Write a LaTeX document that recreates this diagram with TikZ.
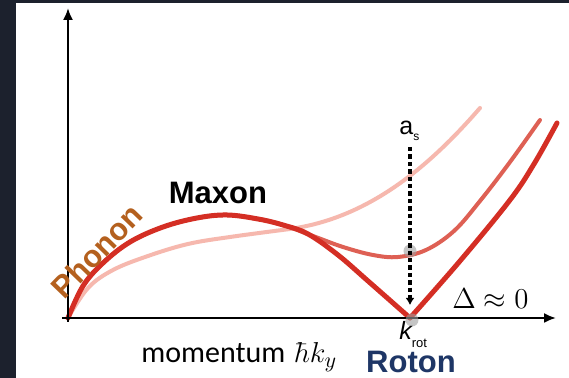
\documentclass[tikz,border=0pt]{standalone}
\usepackage{fontspec}
\setsansfont{Liberation Sans}
\newfontfamily\momfont{Carlito}
\usetikzlibrary{arrows.meta}
\definecolor{slidedark}{RGB}{28,33,45}
\definecolor{rotonred}{RGB}{212,46,36}
\definecolor{mixred}{RGB}{222,96,84}
\definecolor{weakred}{RGB}{246,184,174}
\definecolor{phononbrown}{RGB}{180,96,30}
\definecolor{rotonblue}{RGB}{30,54,102}
\begin{document}
\begin{tikzpicture}[x=0.5pt,y=0.5pt,
  axis/.style={line width=1pt,-{Latex[length=6pt,width=5pt]}},
  branch/.style={line width=#1,line cap=round,line join=round},
  bigsans/.style={font=\sffamily\bfseries\fontsize{15.5}{18}\selectfont,inner sep=0pt},
  smallsans/.style={font=\sffamily\fontsize{12.5}{15}\selectfont,inner sep=0pt,anchor=base west},
  graydot/.style={circle,fill=gray!75,opacity=0.6,minimum size=6.5pt,inner sep=0pt}]
\fill[slidedark] (-68,-60) rectangle (501,318);
\fill[white] (-52,-60) rectangle (501,315);
\coordinate (O) at (0,0);
\coordinate (xtail) at (-6,0);
\coordinate (xend) at (488,0);
\coordinate (ytail) at (0,-4);
\coordinate (yend) at (0,310);
\draw[weakred,branch=2pt] plot[smooth,tension=0.6] coordinates {(0,0) (20,30) (45,48) (80,62) (120,74) (162,81) (222,89)} .. controls (300,100) and (360,150) .. (412,210);
\draw[mixred,branch=2pt] plot[smooth,tension=0.6] coordinates {(0,0) (15,32) (35,55) (62,76) (95,91) (129,100) (159,103) (190,99) (215,93) (245,82) (275,71) (305,63) (330,61) (358,68) (386,87) (412,117) (442,156) (472,198)};
\draw[rotonred,branch=2.5pt] plot[smooth,tension=0.6] coordinates {(0,0) (15,32) (35,55) (62,76) (95,91) (129,100) (159,103) (190,99) (215,93) (240,84) (270,63) (300,37) (342,0)};
\draw[rotonred,branch=2.5pt] plot[smooth,tension=0.6] coordinates {(342,0) (392,57) (442,118) (466,154) (489,195)};
\draw[axis] (xtail) -- (xend);
\draw[axis] (ytail) -- (yend);
\node[graydot] (dotup) at (342,67) {};
\node[graydot] (dotdown) at (344,-2) {};
\node[bigsans] (maxon) at (150,125) {Maxon};
\node[bigsans,text=phononbrown,rotate=46] (phonon) at (29,67) {Phonon};
\node[bigsans,text=rotonblue,anchor=base] (roton) at (343,-55) {Roton};
\node[inner sep=0pt,anchor=base west,font=\fontsize{15}{17}\selectfont] (momentum) at (73,-45) {{\momfont momentum} $\hbar k_y$};
\node[inner sep=0pt,anchor=base west,font=\fontsize{14}{17}\selectfont] (gap) at (384,9) {$\Delta\approx0$};
\node[smallsans] (as) at (331,183) {a\raisebox{-3pt}{\fontsize{6}{7}\selectfont s}};
\node[smallsans] (krot) at (331,-22) {\itshape k\raisebox{-4pt}{\upshape\fontsize{6.5}{7}\selectfont rot}};
\coordinate (astop) at (342,171);
\coordinate (kmin) at (342,13);
\draw[line width=1.6pt,dash pattern=on 2.2pt off 1.5pt,-{Latex[length=3.5pt,width=4.5pt]}] (astop) -- (kmin);
\end{tikzpicture}
\end{document}
